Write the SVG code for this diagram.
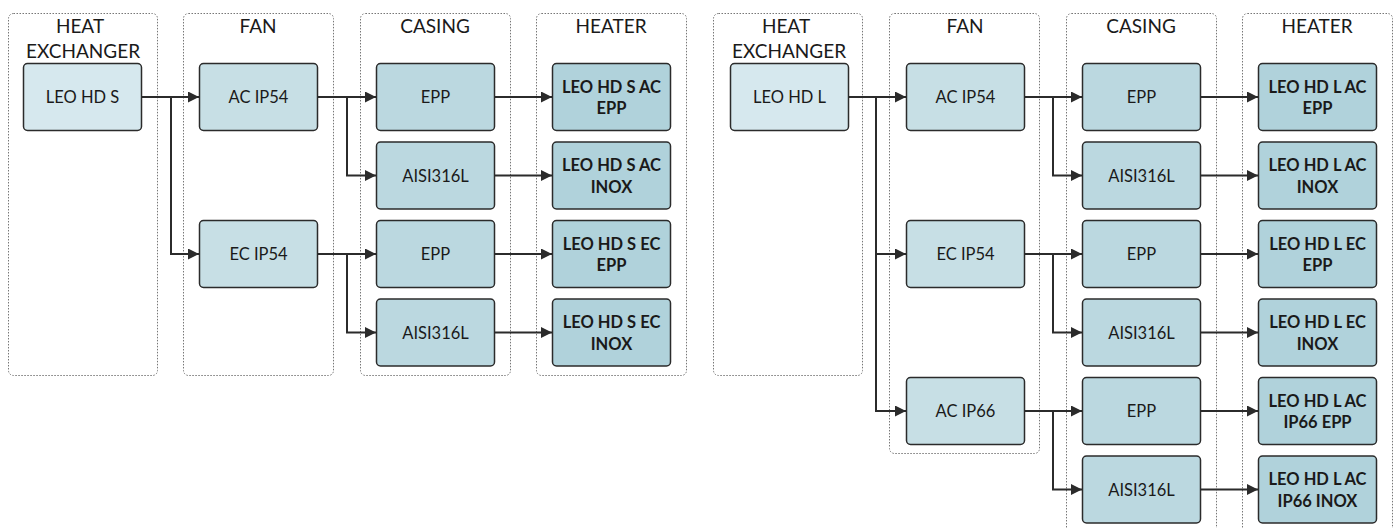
<svg xmlns="http://www.w3.org/2000/svg" width="1396" height="528" viewBox="0 0 1396 528">
<style>
.bg{fill:#ffffff}
.grp{fill:none;stroke:#777;stroke-width:1;stroke-dasharray:1.5 1.5}
.title{font-family:Lato,"Liberation Sans",sans-serif;font-size:19px;fill:#1a1a1a;text-anchor:middle}
.n{stroke:#2b2b2b;stroke-width:1.5}
.he{fill:#d6e8ee}
.fan{fill:#c7dfe5}
.cas{fill:#bbd8e0}
.htr{fill:#b0d2db}
.lbl{font-family:Lato,"Liberation Sans",sans-serif;font-size:16.5px;fill:#1a1a1a;text-anchor:middle}
.b{font-weight:bold;font-size:16.5px}
.c{fill:none;stroke:#2b2b2b;stroke-width:2;marker-end:url(#ah)}
</style>
<defs>
<marker id="ah" markerUnits="userSpaceOnUse" markerWidth="12" markerHeight="11" refX="11" refY="5.5" orient="auto">
<path d="M0,0 L11,5.5 L0,11 z" fill="#2b2b2b"/>
</marker>
</defs>
<rect class="bg" x="0" y="0" width="1396" height="528"/>

<g id="containers">
<g id="grp-l-he"><rect class="grp" x="8.5" y="13.5" width="149" height="362" rx="5"/><text class="title" x="80" y="33">HEAT</text><text class="title" x="83" y="57.5">EXCHANGER</text></g>
<g id="grp-l-fan"><rect class="grp" x="183.5" y="13.5" width="150" height="362" rx="5"/><text class="title" x="258" y="33">FAN</text></g>
<g id="grp-l-cas"><rect class="grp" x="360.5" y="13.5" width="150" height="362" rx="5"/><text class="title" x="435" y="33">CASING</text></g>
<g id="grp-l-htr"><rect class="grp" x="536.5" y="13.5" width="150" height="362" rx="5"/><text class="title" x="611" y="33">HEATER</text></g>
<g id="grp-r-he"><rect class="grp" x="713.5" y="13.5" width="149" height="362" rx="5"/><text class="title" x="786" y="33">HEAT</text><text class="title" x="789" y="57.5">EXCHANGER</text></g>
<g id="grp-r-fan"><rect class="grp" x="889.5" y="13.5" width="150" height="440" rx="5"/><text class="title" x="965" y="33">FAN</text></g>
<g id="grp-r-cas"><rect class="grp" x="1066.5" y="13.5" width="150" height="530" rx="5"/><text class="title" x="1141" y="33">CASING</text></g>
<g id="grp-r-htr"><rect class="grp" x="1242.5" y="13.5" width="150" height="530" rx="5"/><text class="title" x="1317" y="33">HEATER</text></g>
</g>

<g id="connectors">
<path class="c" d="M142,97 H199"/>
<path class="c" d="M171,97 V254 H199"/>
<path class="c" d="M318,97 H376"/>
<path class="c" d="M347,97 V175.5 H376"/>
<path class="c" d="M318,254 H376"/>
<path class="c" d="M347,254 V332.5 H376"/>
<path class="c" d="M494,97 H552"/>
<path class="c" d="M494,175.5 H552"/>
<path class="c" d="M494,254 H552"/>
<path class="c" d="M494,332.5 H552"/>

<path class="c" d="M848,97 H906"/>
<path class="c" d="M876,97 V254 H906"/>
<path class="c" d="M876,254 V411 H906"/>
<path class="c" d="M1024,97 H1082"/>
<path class="c" d="M1053,97 V175.5 H1082"/>
<path class="c" d="M1024,254 H1082"/>
<path class="c" d="M1053,254 V332.5 H1082"/>
<path class="c" d="M1024,411 H1082"/>
<path class="c" d="M1053,411 V489.5 H1082"/>
<path class="c" d="M1200,97 H1258"/>
<path class="c" d="M1200,175.5 H1258"/>
<path class="c" d="M1200,254 H1258"/>
<path class="c" d="M1200,332.5 H1258"/>
<path class="c" d="M1200,411 H1258"/>
<path class="c" d="M1200,489.5 H1258"/>
</g>

<g id="n-leo-hd-s"><rect class="n he" x="23.5" y="63.5" width="118" height="67" rx="4"/><text class="lbl" x="82.5" y="103">LEO HD S</text></g>
<g id="n-l-ac-ip54"><rect class="n fan" x="199.5" y="63.5" width="118" height="67" rx="4"/><text class="lbl" x="258.5" y="103">AC IP54</text></g>
<g id="n-l-ec-ip54"><rect class="n fan" x="199.5" y="220.5" width="118" height="67" rx="4"/><text class="lbl" x="258.5" y="260">EC IP54</text></g>
<g id="n-l-ac-epp"><rect class="n cas" x="376.5" y="63.5" width="118" height="67" rx="4"/><text class="lbl" x="435.5" y="103">EPP</text></g>
<g id="n-l-ac-aisi"><rect class="n cas" x="376.5" y="142" width="118" height="67" rx="4"/><text class="lbl" x="435.5" y="181.5">AISI316L</text></g>
<g id="n-l-ec-epp"><rect class="n cas" x="376.5" y="220.5" width="118" height="67" rx="4"/><text class="lbl" x="435.5" y="260">EPP</text></g>
<g id="n-l-ec-aisi"><rect class="n cas" x="376.5" y="299" width="118" height="67" rx="4"/><text class="lbl" x="435.5" y="338.5">AISI316L</text></g>
<g id="n-l-h1"><rect class="n htr" x="552.5" y="63.5" width="118" height="67" rx="4"/><text class="lbl b" x="611.5" y="92.5">LEO HD S AC</text><text class="lbl b" x="611.5" y="114">EPP</text></g>
<g id="n-l-h2"><rect class="n htr" x="552.5" y="142" width="118" height="67" rx="4"/><text class="lbl b" x="611.5" y="171">LEO HD S AC</text><text class="lbl b" x="611.5" y="192.5">INOX</text></g>
<g id="n-l-h3"><rect class="n htr" x="552.5" y="220.5" width="118" height="67" rx="4"/><text class="lbl b" x="611.5" y="249.5">LEO HD S EC</text><text class="lbl b" x="611.5" y="271">EPP</text></g>
<g id="n-l-h4"><rect class="n htr" x="552.5" y="299" width="118" height="67" rx="4"/><text class="lbl b" x="611.5" y="328">LEO HD S EC</text><text class="lbl b" x="611.5" y="349.5">INOX</text></g>

<g id="n-leo-hd-l"><rect class="n he" x="730.5" y="63.5" width="118" height="67" rx="4"/><text class="lbl" x="789.5" y="103">LEO HD L</text></g>
<g id="n-r-ac-ip54"><rect class="n fan" x="906.5" y="63.5" width="118" height="67" rx="4"/><text class="lbl" x="965.5" y="103">AC IP54</text></g>
<g id="n-r-ec-ip54"><rect class="n fan" x="906.5" y="220.5" width="118" height="67" rx="4"/><text class="lbl" x="965.5" y="260">EC IP54</text></g>
<g id="n-r-ac-ip66"><rect class="n fan" x="906.5" y="377.5" width="118" height="67" rx="4"/><text class="lbl" x="965.5" y="417">AC IP66</text></g>
<g id="n-r-c1"><rect class="n cas" x="1082.5" y="63.5" width="118" height="67" rx="4"/><text class="lbl" x="1141.5" y="103">EPP</text></g>
<g id="n-r-c2"><rect class="n cas" x="1082.5" y="142" width="118" height="67" rx="4"/><text class="lbl" x="1141.5" y="181.5">AISI316L</text></g>
<g id="n-r-c3"><rect class="n cas" x="1082.5" y="220.5" width="118" height="67" rx="4"/><text class="lbl" x="1141.5" y="260">EPP</text></g>
<g id="n-r-c4"><rect class="n cas" x="1082.5" y="299" width="118" height="67" rx="4"/><text class="lbl" x="1141.5" y="338.5">AISI316L</text></g>
<g id="n-r-c5"><rect class="n cas" x="1082.5" y="377.5" width="118" height="67" rx="4"/><text class="lbl" x="1141.5" y="417">EPP</text></g>
<g id="n-r-c6"><rect class="n cas" x="1082.5" y="456" width="118" height="67" rx="4"/><text class="lbl" x="1141.5" y="495.5">AISI316L</text></g>
<g id="n-r-h1"><rect class="n htr" x="1258.5" y="63.5" width="118" height="67" rx="4"/><text class="lbl b" x="1317.5" y="92.5">LEO HD L AC</text><text class="lbl b" x="1317.5" y="114">EPP</text></g>
<g id="n-r-h2"><rect class="n htr" x="1258.5" y="142" width="118" height="67" rx="4"/><text class="lbl b" x="1317.5" y="171">LEO HD L AC</text><text class="lbl b" x="1317.5" y="192.5">INOX</text></g>
<g id="n-r-h3"><rect class="n htr" x="1258.5" y="220.5" width="118" height="67" rx="4"/><text class="lbl b" x="1317.5" y="249.5">LEO HD L EC</text><text class="lbl b" x="1317.5" y="271">EPP</text></g>
<g id="n-r-h4"><rect class="n htr" x="1258.5" y="299" width="118" height="67" rx="4"/><text class="lbl b" x="1317.5" y="328">LEO HD L EC</text><text class="lbl b" x="1317.5" y="349.5">INOX</text></g>
<g id="n-r-h5"><rect class="n htr" x="1258.5" y="377.5" width="118" height="67" rx="4"/><text class="lbl b" x="1317.5" y="406.5">LEO HD L AC</text><text class="lbl b" x="1317.5" y="428">IP66 EPP</text></g>
<g id="n-r-h6"><rect class="n htr" x="1258.5" y="456" width="118" height="67" rx="4"/><text class="lbl b" x="1317.5" y="485">LEO HD L AC</text><text class="lbl b" x="1317.5" y="506.5">IP66 INOX</text></g>
</svg>
